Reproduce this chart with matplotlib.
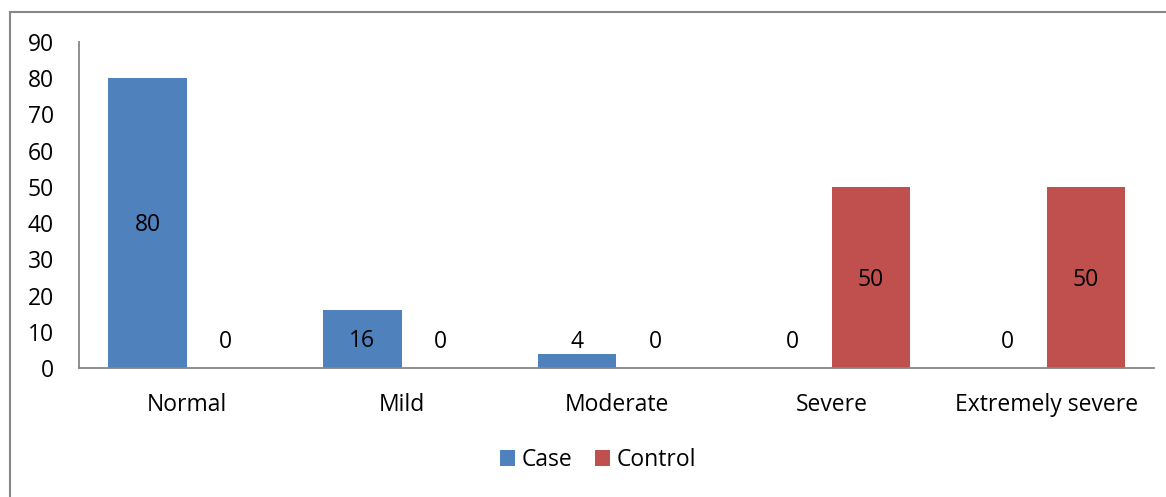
import matplotlib.pyplot as plt
import numpy as np
from matplotlib.patches import Rectangle

categories = ["Normal", "Mild", "Moderate", "Severe", "Extremely severe"]
case_values = [80, 16, 4, 0, 0]
control_values = [0, 0, 0, 50, 50]
series_names = ["Case", "Control"]
yticks = list(range(0, 100, 10))

blue = "#4F81BD"
red = "#C0504D"
axis_gray = "#868686"

plt.rcParams['font.family'] = ['Open Sans', 'DejaVu Sans']
fs = 16.5

W, H = 1166, 497
fig = plt.figure(figsize=(W / 100, H / 100), dpi=100)
# outer chart frame (right and bottom fall outside the picture)
fig.patches.append(Rectangle((10 / W, -0.05), 1.2, 1 - 12 / H + 0.05,
                             transform=fig.transFigure, fill=False,
                             edgecolor="#878787", linewidth=1.5))

ax = fig.add_axes([79 / W, 1 - 368 / H, (1154 - 79) / W, (368 - 42) / H])

x = np.arange(len(categories))
width = 0.363
ax.bar(x - width / 2, case_values, width, color=blue, label=series_names[0])
ax.bar(x + width / 2, control_values, width, color=red, label=series_names[1])

# data labels: centred in bar, but never below a minimum height
for vals, off in [(case_values, -width / 2), (control_values, width / 2)]:
    for xi, v in zip(x, vals):
        ax.text(xi + off, max(v / 2 - 0.6, 7.1), str(v), ha="center", va="center",
                fontsize=fs, color="black")

ax.set_xlim(-0.5, len(categories) - 0.5)
ax.set_ylim(0, 90)
ax.set_yticks(yticks)
ax.set_xticks(x)
ax.set_xticklabels(categories)
ax.tick_params(axis="both", length=0, labelsize=fs, colors="black")
ax.tick_params(axis="y", pad=18)
ax.tick_params(axis="x", pad=18)
for lbl in ax.get_yticklabels():
    lbl.set_horizontalalignment("right")

for s in ["top", "right"]:
    ax.spines[s].set_visible(False)
for s in ["left", "bottom"]:
    ax.spines[s].set_color(axis_gray)
    ax.spines[s].set_linewidth(1.3)

fig.legend(loc="center", bbox_to_anchor=(598 / W, 1 - 460 / H), ncol=2,
           frameon=False, fontsize=fs, handlelength=0.65, handleheight=0.65,
           handletextpad=0.3, columnspacing=1.0)

fig.savefig("out.png", dpi=100)
